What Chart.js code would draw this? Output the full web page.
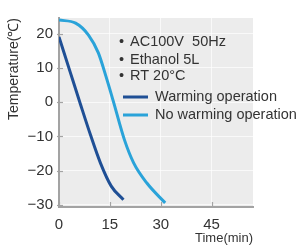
<!DOCTYPE html>
<html>
<head>
<meta charset="utf-8">
<script src="https://cdn.jsdelivr.net/npm/chart.js@4/dist/chart.umd.min.js"></script>
<style>
    html, body { margin: 0; padding: 0; background: #fff; }
    #wrap { width: 299px; height: 252px; }
</style>
</head>
<body>
<div id="wrap"><canvas id="myChart" width="299" height="252"></canvas></div>
<script>
// values
const warmTime = [0, 3.4, 6.3, 9.3, 12.2, 15.4, 19.0];
const warmTemp = [19.1, 8.5, -0.5, -9.6, -17.7, -24.5, -28.5];
const noWarmTime = [0, 4.9, 8.7, 11.6, 13.8, 15.9, 19.3, 22.0, 25.9, 31.3];
const noWarmTemp = [24.0, 23.1, 19.6, 14.4, 7.7, 0.7, -11.0, -17.7, -23.6, -29.4];
const xTicks = [0, 15, 30, 45];
const yTicks = [-30, -20, -10, 0, 10, 20];
const notes = ['AC100V  50Hz', 'Ethanol 5L', 'RT 20°C'];
const seriesNames = ['Warming operation', 'No warming operation'];

const toPoints = (xs, ys) => xs.map((x, i) => ({ x: x, y: ys[i] }));
const textColor = '#333';
const axisColor = '#a3a3a3';

// plot background + inner tick marks
const plotBack = {
    id: 'plotBack',
    beforeDraw(chart)
    {
        const { ctx, chartArea: a } = chart;
        ctx.save();
        ctx.fillStyle = '#ececec';
        ctx.fillRect(a.left, a.top, a.right - a.left, a.bottom - a.top);
        ctx.restore();
    },
    afterDraw(chart)
    {
        const { ctx, chartArea: a, scales } = chart;
        ctx.save();
        ctx.strokeStyle = axisColor;
        ctx.lineWidth = 1.2;
        scales.y.ticks.forEach(t =>
        {
            const y = Math.round(scales.y.getPixelForValue(t.value)) + 0.5;
            ctx.beginPath();
            ctx.moveTo(a.left - 2, y);
            ctx.lineTo(a.left + 4, y);
            ctx.stroke();
        });
        scales.x.ticks.forEach(t =>
        {
            const x = Math.round(scales.x.getPixelForValue(t.value)) + 0.5;
            ctx.beginPath();
            ctx.moveTo(x, a.bottom + 1);
            ctx.lineTo(x, a.bottom - 5);
            ctx.stroke();
        });
        ctx.restore();
    }
};

// notes and series key drawn inside the plot
const keyBox = {
    id: 'keyBox',
    afterDatasetsDraw(chart)
    {
        const ctx = chart.ctx;
        ctx.save();
        ctx.font = '14.5px "Liberation Sans", Arial, sans-serif';
        ctx.fillStyle = textColor;
        ctx.textBaseline = 'middle';
        const noteY = [42, 60, 76];
        notes.forEach((n, i) =>
        {
            ctx.fillText('•', 119, noteY[i]);
            ctx.fillText(n, 130, noteY[i]);
        });
        const keyY = [97, 115];
        chart.data.datasets.forEach((ds, i) =>
        {
            ctx.strokeStyle = ds.borderColor;
            ctx.lineWidth = 3;
            ctx.beginPath();
            ctx.moveTo(123, keyY[i]);
            ctx.lineTo(148, keyY[i]);
            ctx.stroke();
            ctx.fillText(ds.label, 155, keyY[i]);
        });
        ctx.restore();
    }
};

new Chart(document.getElementById('myChart').getContext('2d'), {
    type: 'line',
    data: {
        datasets: [
            {
                label: seriesNames[0],
                data: toPoints(warmTime, warmTemp),
                borderColor: '#1f4f95',
                borderWidth: 3,
                pointRadius: 0,
                cubicInterpolationMode: 'monotone',
            },
            {
                label: seriesNames[1],
                data: toPoints(noWarmTime, noWarmTemp),
                borderColor: '#2aa3d9',
                borderWidth: 3,
                pointRadius: 0,
                cubicInterpolationMode: 'monotone',
            },
        ]
    },
    plugins: [plotBack, keyBox],
    options: {
        responsive: false,
        animation: false,
        layout: {
            padding: { top: 18, right: 46, left: 0, bottom: 0 }
        },
        plugins: {
            legend: { display: false },
            tooltip: { enabled: false },
        },
        scales: {
            x: {
                type: 'linear',
                min: 0,
                max: 57.2,
                afterBuildTicks: (s) => { s.ticks = xTicks.map(v => ({ value: v })); },
                afterFit: (s) => { s.height = 45; },
                grid: { color: 'rgba(255,255,255,0.7)', drawTicks: false },
                border: { color: axisColor, width: 2 },
                ticks: {
                    color: textColor,
                    padding: 9,
                    font: { family: '"Liberation Sans", Arial, sans-serif', size: 15 },
                },
                title: {
                    display: true,
                    text: 'Time(min)',
                    align: 'end',
                    color: textColor,
                    padding: { top: 0, bottom: 6 },
                    font: { family: '"Liberation Sans", Arial, sans-serif', size: 13 },
                },
            },
            y: {
                type: 'linear',
                min: -30.6,
                max: 24.6,
                afterBuildTicks: (s) => { s.ticks = yTicks.map(v => ({ value: v })); },
                afterFit: (s) => { s.width = 59; },
                grid: { color: 'rgba(255,255,255,0.7)', drawTicks: false },
                border: { color: axisColor, width: 2 },
                ticks: {
                    color: textColor,
                    padding: 6,
                    font: { family: '"Liberation Sans", Arial, sans-serif', size: 15 },
                    callback: (v) => String(v).replace('-', '\u2212'),
                },
                title: {
                    display: true,
                    text: 'Temperature(\u2103)',
                    align: 'end',
                    color: textColor,
                    padding: { top: 6, bottom: 0 },
                    font: { family: '"Liberation Sans", Arial, sans-serif', size: 14 },
                },
            }
        }
    }
});
</script>
</body>
</html>
